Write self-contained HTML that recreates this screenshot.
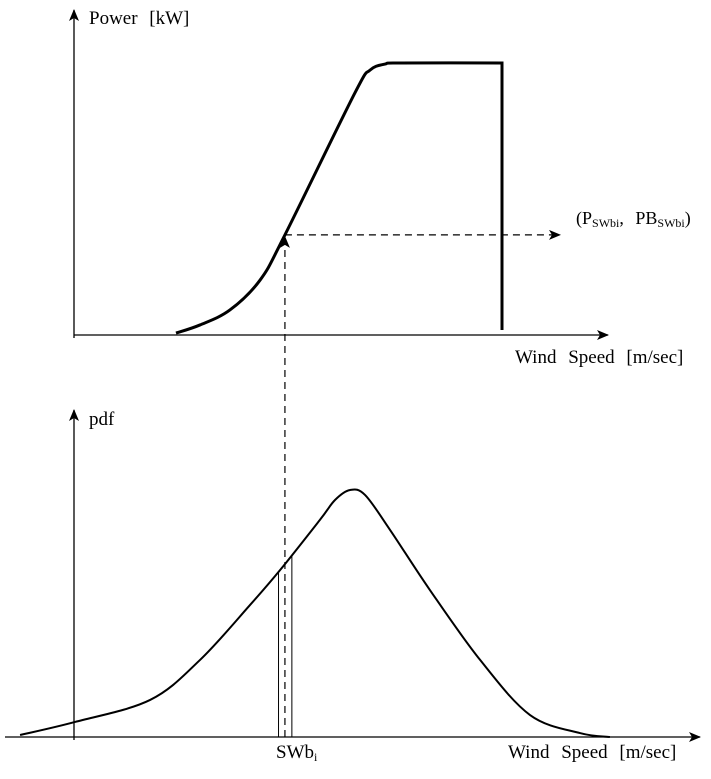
<!DOCTYPE html>
<html><head><meta charset="utf-8"><style>
body{margin:0;background:#fff}
svg text{font-family:"Liberation Serif",serif;fill:#000;word-spacing:7px}
</style></head><body>
<svg width="711" height="774" viewBox="0 0 711 774" id="chart">
<defs><marker id="ah" markerWidth="12" markerHeight="10" refX="11" refY="5" orient="auto" markerUnits="userSpaceOnUse"><path d="M0,0 L12,5 L0,10 L3,5 Z" fill="#000"/></marker></defs>
<g id="top">
<line x1="74" y1="338" x2="74" y2="10" stroke="#000" stroke-width="1.3" marker-end="url(#ah)"/>
<line x1="74" y1="335" x2="608" y2="335" stroke="#000" stroke-width="1.3" marker-end="url(#ah)"/>
<text x="89" y="24" font-size="19">Power [kW]</text>
<text x="515" y="363" font-size="19">Wind Speed [m/sec]</text>
<text x="576" y="224" font-size="18">(P<tspan font-size="12" dy="3">SWbi</tspan><tspan dy="-3">, PB</tspan><tspan font-size="12" dy="3">SWbi</tspan><tspan dy="-3">)</tspan></text>
</g>
<g id="bottom">
<line x1="74" y1="740" x2="74" y2="410" stroke="#000" stroke-width="1.3" marker-end="url(#ah)"/>
<line x1="5" y1="737" x2="700" y2="737" stroke="#000" stroke-width="1.3" marker-end="url(#ah)"/>
<text x="89" y="425" font-size="19">pdf</text>
<text x="508" y="758" font-size="19">Wind Speed [m/sec]</text>
<text x="276" y="758" font-size="19">SWb<tspan font-size="12" dy="3">i</tspan></text>
</g>
</svg>
<script>
const powerWs=[3.82,4.72,5.84,6.97,7.9,10.52,11.09,11.65,12.21,16.03];
const powerVal=[0.007,0.037,0.092,0.202,0.368,0.89,0.974,0.996,1,1];
const cutOutWs=16.03;
const pdfWs=[-2.02,0.04,2.85,4.72,6.59,7.72,9.21,9.78,10.34,10.9,11.84,13.33,15.21,17.08,18.95,20.07];
const pdfVal=[0.008,0.061,0.15,0.312,0.534,0.676,0.879,0.96,1,0.98,0.838,0.595,0.312,0.089,0.016,0];
const binWs=[7.66,7.9,8.16];
const pointWs=7.9;
const NS="http://www.w3.org/2000/svg";
const xS=w=>74+w*26.7;
const yP=p=>335-p*272;
const yD=v=>737-v*247;
function smooth(pts){let d="M"+pts[0][0]+","+pts[0][1];for(let i=0;i<pts.length-1;i++){const p0=pts[i-1]||pts[i],p1=pts[i],p2=pts[i+1],p3=pts[i+2]||p2;d+=" C"+(p1[0]+(p2[0]-p0[0])/6)+","+(p1[1]+(p2[1]-p0[1])/6)+" "+(p2[0]-(p3[0]-p1[0])/6)+","+(p2[1]-(p3[1]-p1[1])/6)+" "+p2[0]+","+p2[1];}return d;}
function interp(xs,ys,x){for(let i=0;i<xs.length-1;i++){if(x>=xs[i]&&x<=xs[i+1]){return ys[i]+(ys[i+1]-ys[i])*(x-xs[i])/(xs[i+1]-xs[i]);}}return ys[ys.length-1];}
function mk(tag,attrs,parent){const e=document.createElementNS(NS,tag);for(const k in attrs)e.setAttribute(k,attrs[k]);document.getElementById(parent).appendChild(e);return e;}
const pc=mk("path",{d:smooth(powerWs.map((w,i)=>[xS(w),yP(powerVal[i])]))+" L"+xS(cutOutWs)+","+(yP(0)-5),fill:"none",stroke:"#000","stroke-width":3},"top");


const pp=yP(interp(powerWs,powerVal,pointWs));
const hd=mk("line",{x1:xS(pointWs),y1:pp,x2:560,y2:pp,stroke:"#000","stroke-width":1.2,"stroke-dasharray":"7,5","marker-end":"url(#ah)"},"top");


const vd=mk("line",{x1:xS(pointWs),y1:yD(0),x2:xS(pointWs),y2:pp+2,stroke:"#000","stroke-width":1.2,"stroke-dasharray":"7,5","marker-end":"url(#ah)"},"top");


const pd=mk("path",{d:smooth(pdfWs.map((w,i)=>[xS(w),yD(pdfVal[i])])),fill:"none",stroke:"#000","stroke-width":2},"bottom");


[binWs[0],binWs[2]].forEach(w=>{const l=mk("line",{x1:xS(w),y1:yD(0),x2:xS(w),y2:yD(interp(pdfWs,pdfVal,w)),stroke:"#000","stroke-width":1},"bottom");

});
</script>
</body></html>
